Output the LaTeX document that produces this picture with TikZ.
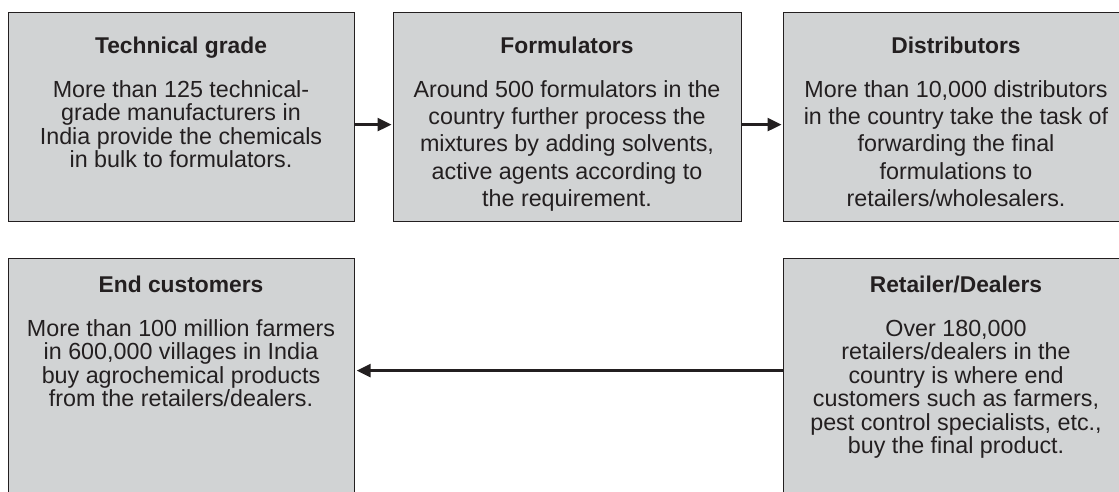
\documentclass[tikz,border=0pt]{standalone}
\usepackage{fontspec}
\setmainfont{Liberation Sans}
\usetikzlibrary{arrows.meta}
\definecolor{boxfill}{HTML}{D1D3D4}
\definecolor{ink}{HTML}{231F20}
\newcommand\firstln{\rule{0pt}{17pt}}
\tikzset{
  box/.style={draw=ink, line width=1.2pt, fill=boxfill, anchor=north west, inner sep=0pt},
  ttl/.style={anchor=base, inner sep=0pt, text=ink, font=\fontsize{22.8}{23.3}\selectfont\bfseries},
  bodytext/.style={anchor=north, inner sep=0pt, align=center, text=ink, font=\fontsize{23.3}{23.5}\selectfont},
  widetext/.style={bodytext, font=\fontsize{23.3}{27.3}\selectfont},
  flow/.style={draw=ink, line width=2.6pt, -{Triangle[length=14pt,width=13pt]}},
}
\begin{document}
\begin{tikzpicture}[x=1pt,y=-1pt]
\useasboundingbox (0,0) rectangle (1119,491);
\clip (0,0) rectangle (1119,491);
% top row
\node[box, minimum width=346pt, minimum height=209pt] (b1) at (8,12) {};
\node[box, minimum width=348pt, minimum height=209pt] (b2) at (393,12) {};
\node[box, minimum width=346pt, minimum height=209pt] (b3) at (783,12) {};
% bottom row
\node[box, minimum width=346pt, minimum height=250pt] (b4) at (8,258) {};
\node[box, minimum width=346pt, minimum height=250pt] (b5) at (783,258) {};
% titles
\node[ttl] (t1) at (181,53) {Technical grade};
\node[ttl] (t2) at (567,53) {Formulators};
\node[ttl] (t3) at (956,53) {Distributors};
\node[ttl] (t4) at (181,292) {End customers};
\node[ttl] (t5) at (956,292) {Retailer/Dealers};
% bodies
\node[bodytext] (d1) at (181,80) {\firstln More than 125 technical-\\grade manufacturers in\\India provide the chemicals\\in bulk to formulators.};
\node[widetext] (d2) at (567,80) {\firstln Around 500 formulators in the\\country further process the\\mixtures by adding solvents,\\active agents according to\\the requirement.};
\node[widetext] (d3) at (956,80) {\firstln More than 10,000 distributors\\in the country take the task of\\forwarding the final\\formulations to\\retailers/wholesalers.};
\node[bodytext] (d4) at (181,319) {\firstln More than 100 million farmers\\in 600,000 villages in India\\buy agrochemical products\\from the retailers/dealers.};
\node[bodytext] (d5) at (956,319) {\firstln Over 180,000\\retailers/dealers in the\\country is where end\\customers such as farmers,\\pest control specialists, etc.,\\buy the final product.};
% connectors
\draw[flow, shorten >=1.5pt] ([yshift=-7.5pt]b1.east) -- ([yshift=-7.5pt]b2.west);
\draw[flow, shorten >=1.5pt] ([yshift=-7.5pt]b2.east) -- ([yshift=-7.5pt]b3.west);
\draw[flow, shorten >=1.5pt] ([yshift=13pt]b5.west) -- ([yshift=13pt]b4.east);
\end{tikzpicture}
\end{document}
